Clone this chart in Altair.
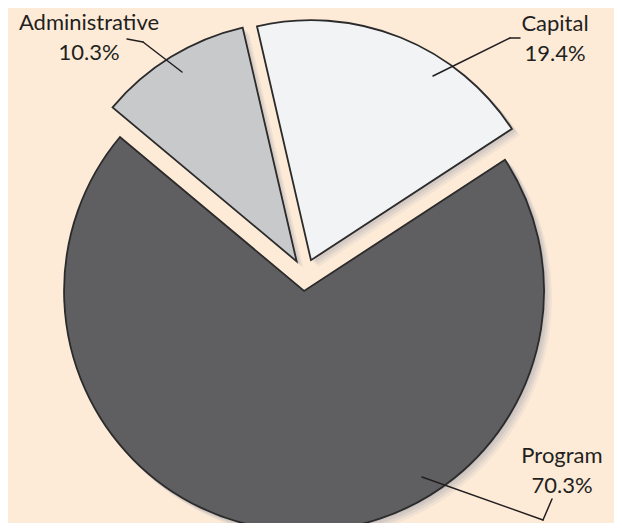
import math
import altair as alt
import pandas as pd

# ---- data ----
categories = ["Capital", "Program", "Administrative"]
shares = [19.4, 70.3, 10.3]
fills = ["#F2F3F5", "#5F5F61", "#C8C9CB"]

# ---- layout ----
W, H = 606, 515
CX, CY = 297, 267
R = 240
EXPLODE = 16
START = -13 * math.pi / 180
BG = "#FDEBD8"
INK = "#231F20"

df = pd.DataFrame({"category": categories, "share": shares, "order": list(range(len(categories)))})

base = (
    alt.Chart(df)
    .transform_window(cum="sum(share)", sort=[alt.SortField("order")], frame=[None, 0])
    .transform_calculate(
        a0=f"{START} + 2*PI*(datum.cum - datum.share)/100",
        a1=f"{START} + 2*PI*datum.cum/100",
    )
    .transform_calculate(mid="(datum.a0 + datum.a1)/2")
    .transform_calculate(
        cx=f"{CX} + {EXPLODE}*sin(datum.mid)",
        cy=f"{CY} - {EXPLODE}*cos(datum.mid)",
    )
)

layers = []
# soft drop shadow
for k, op in [(1, 0.18), (3, 0.16), (5, 0.14), (7, 0.1)]:
    sh = base.transform_calculate(
        sx=f"datum.cx + {k}", sy=f"datum.cy + {k}"
    ).mark_arc(radius=R + 1, color="#8F96A3", opacity=op).encode(
        theta=alt.Theta("a0:Q", scale=None),
        theta2="a1:Q",
        x=alt.X("sx:Q", scale=None),
        y=alt.Y("sy:Q", scale=None),
    )
    layers.append(sh)

slices = base.mark_arc(radius=R, stroke="#2B2B2B", strokeWidth=1.8, strokeJoin="miter").encode(
    theta=alt.Theta("a0:Q", scale=None),
    theta2="a1:Q",
    x=alt.X("cx:Q", scale=None),
    y=alt.Y("cy:Q", scale=None),
    color=alt.Color("category:N", scale=alt.Scale(domain=categories, range=fills), legend=None),
)
layers.append(slices)

# leader lines (annotation layout)
leaders = [
    (119, 31, 135, 34), (135, 34, 174, 64),
    (512, 30, 502, 30), (502, 30, 425, 68),
    (544, 491, 535, 512), (535, 512, 414, 469),
]
one = pd.DataFrame({"k": [0]})
for (x1, y1, x2, y2) in leaders:
    layers.append(
        alt.Chart(one).mark_rule(color=INK, strokeWidth=1.5, strokeCap="round").encode(
            x=alt.value(x1), y=alt.value(y1), x2=alt.value(x2), y2=alt.value(y2)
        )
    )

# labels
label_pos = {"Administrative": (81, 22), "Capital": (547, 23), "Program": (554, 455)}
for cat, (lx, ly) in label_pos.items():
    layers.append(
        alt.Chart(df)
        .transform_filter(alt.datum.category == cat)
        .transform_calculate(label="datum.category + '|' + format(datum.share, '.1f') + '%'")
        .mark_text(font="Lato", fontSize=22, color=INK, align="center", baseline="alphabetic",
                   lineBreak="|", lineHeight=30)
        .encode(text="label:N", x=alt.value(lx), y=alt.value(ly))
    )

chart = (
    alt.layer(*layers)
    .properties(width=W, height=H, background=BG, padding=0, autosize=alt.AutoSizeParams(type="none"))
    .configure_view(stroke=None)
)

chart.save("out.html", embed_options={"renderer": "svg", "actions": False})
